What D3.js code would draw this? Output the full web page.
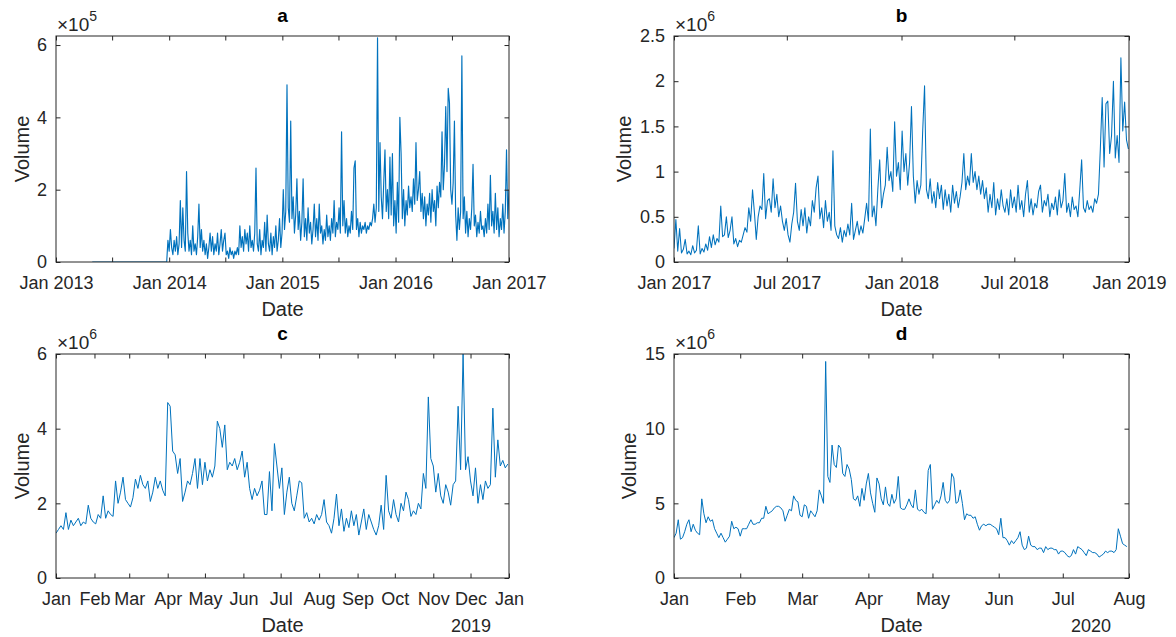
<!DOCTYPE html>
<html>
<head>
<meta charset="utf-8">
<script src="https://cdn.jsdelivr.net/npm/d3@7"></script>
<style>
  html, body { margin: 0; padding: 0; background: #fff; }
  svg { display: block; font-family: "Liberation Sans", Arial, Helvetica, sans-serif; }
</style>
</head>
<body>
<svg id="chart" width="1176" height="637"></svg>
<script>
// Daily trading volume, four periods. Series are sampled at a fixed day step
// from a start date; values are stored in the unit given next to each array.

// ---- panel a: 2013-2016 (step 4 days, unit 1e4) ----
const startA = "2013-04-28";
const stepA = 4;
const unitA = 1e4;
const volA = [
  0,0,0,0,0,0,0,0,0,0, 0,0,0,0,0,0,0,0,0,0, 0,0,0,0,0,0,0,0,0,0,
  0,0,0,0,0,0,0,0,0,0, 0,0,0,0,0,0,0,0,0,0, 0,0,0,0,0,0,0,0,0,0, 0,
  6, 3, 9, 4, 2, 6, 3, 7, 2, 5, 17, 4, 15, 6, 3, 25, 8, 3, 6, 2,
  10, 3, 5, 2, 7, 16, 4, 9, 3, 6, 2, 5, 1, 4, 8, 3, 7, 2, 5, 3,
  8, 2, 5, 9, 3, 6, 8, 2, 3, 1, 4, 2, 3, 1, 3, 2, 4, 2, 10, 4,
  7, 3, 9, 5, 8, 3, 10, 4, 6, 3, 8, 26, 5, 3, 9, 2, 6, 4, 11, 3,
  13, 5, 3, 8, 2, 7, 4, 10, 3, 6, 12, 4, 8, 20, 9, 14, 49, 15, 11, 39,
  12, 18, 8, 13, 23, 9, 14, 6, 11, 23, 7, 12, 6, 15, 8, 11, 5, 9, 16, 7,
  12, 6, 16, 8, 10, 5, 9, 6, 13, 7, 10, 6, 12, 8, 17, 7, 11, 9, 15, 8,
  36, 10, 17, 8, 12, 7, 10, 8, 14, 9, 26, 28, 9, 12, 7, 11, 8, 10, 9, 11,
  8, 10, 9, 11, 10, 12, 16, 11, 15, 62, 14, 33, 18, 12, 22, 31, 14, 20, 12, 29,
  13, 30, 10, 17, 8, 22, 11, 40, 30, 12, 20, 10, 17, 13, 21, 15, 18, 14, 23, 16,
  33, 17, 20, 25, 14, 19, 12, 18, 10, 16, 13, 19, 11, 20, 14, 17, 10, 21, 15, 22,
  18, 36, 20, 27, 43, 25, 48, 44, 20, 16, 22, 39, 13, 6, 15, 9, 14, 57, 12, 18,
  8, 14, 7, 12, 9, 15, 27, 10, 13, 7, 11, 8, 14, 9, 10, 7, 12, 8, 16, 9,
  24, 10, 14, 8, 19, 9, 15, 7, 12, 9, 16, 8, 14, 31, 12, 20
];
const xTicksA = ["2013-01-01","2013-07-01","2014-01-01","2014-07-01","2015-01-01",
                 "2015-07-01","2016-01-01","2016-07-01","2017-01-01"];
const xLabelsA = ["Jan 2013","","Jan 2014","","Jan 2015","","Jan 2016","","Jan 2017"];
const yTicksA = [0, 2e5, 4e5, 6e5];
const yLabelsA = ["0","2","4","6"];

// ---- panel b: 2017-2018 (step 3 days, unit 1e4) ----
const startB = "2017-01-01";
const stepB = 3;
const unitB = 1e4;
const volB = [
  15, 47, 12, 37, 10, 14, 25, 9, 12, 8, 18, 10, 13, 40, 9, 15, 11, 20, 13, 28,
  16, 30, 19, 26, 22, 62, 28, 30, 50, 27, 35, 50, 20, 26, 17, 24, 22, 30, 38, 33,
  60, 45, 80, 55, 25, 50, 62, 58, 98, 48, 68, 70, 55, 92, 60, 75, 50, 62, 45, 35,
  48, 30, 22, 42, 55, 87, 45, 35, 58, 40, 60, 32, 50, 40, 68, 55, 82, 95, 48, 60,
  38, 68, 45, 55, 35, 123, 40, 30, 26, 38, 22, 35, 28, 42, 30, 65, 25, 35, 45, 30,
  40, 32, 48, 65, 45, 147, 50, 62, 40, 80, 113, 60, 75, 85, 127, 90, 100, 78, 155, 95,
  110, 80, 145, 100, 120, 85, 110, 172, 95, 65, 90, 75, 85, 145, 195, 80, 70, 92, 65, 78,
  60, 88, 70, 85, 58, 80, 62, 75, 55, 85, 65, 78, 60, 72, 88, 120, 80, 95, 85, 120,
  88, 100, 80, 95, 75, 90, 70, 82, 55, 75, 60, 88, 52, 70, 58, 80, 62, 55, 70, 52,
  80, 60, 72, 55, 85, 58, 68, 50, 75, 90, 55, 70, 52, 65, 60, 78, 85, 55, 68, 62,
  75, 50, 65, 58, 72, 52, 80, 60, 68, 98, 55, 65, 50, 72, 58, 62, 50, 80, 113, 60,
  55, 68, 58, 62, 55, 70, 65, 75, 125, 182, 105, 175, 178, 120, 140, 200, 115, 140, 110, 226,
  145, 177, 135, 125
];
const xTicksB = ["2017-01-01","2017-07-01","2018-01-01","2018-07-01","2019-01-01"];
const xLabelsB = ["Jan 2017","Jul 2017","Jan 2018","Jul 2018","Jan 2019"];
const yTicksB = [0, 0.5e6, 1e6, 1.5e6, 2e6, 2.5e6];
const yLabelsB = ["0","0.5","1","1.5","2","2.5"];

// ---- panel c: 2018 (step 2 days, unit 1e5) ----
const startC = "2018-01-01";
const stepC = 2;
const unitC = 1e5;
const volC = [
  12, 13, 14, 13, 17.5, 13, 15.5, 14, 15, 16, 14, 15, 14.5, 19.5, 16, 15, 14.5, 17, 16, 22,
  16, 18, 17, 16.5, 26, 20, 23, 27, 21, 20, 19, 21.5, 26.5, 24, 27.5, 25, 24, 26, 20.5, 23,
  27, 24, 26, 23.5, 22, 47, 46, 34, 33, 28, 32, 20.5, 23, 26, 25, 28, 32, 24, 32, 25,
  31, 26, 29, 27, 30, 42, 40, 35, 41, 29, 31, 30, 32, 29, 31, 34, 27, 31, 24, 21,
  24, 22, 23.5, 26, 17, 17, 28.5, 18, 36, 30, 24, 29.5, 17, 23, 27, 20, 18, 22, 26, 25.5,
  16, 17.5, 15, 16, 14.5, 17, 15.5, 17, 21, 15, 14, 12, 16, 22.5, 14, 18.5, 12.5, 16, 13.5, 18,
  14, 17, 11.5, 15, 18.5, 13, 17, 15, 13, 11.5, 14, 19.5, 13, 27.5, 18, 16, 21, 17, 15, 20,
  18, 23, 21, 16.5, 18, 17, 20, 18.5, 28, 24, 48.5, 32, 30, 23, 28, 22, 20, 25, 23, 19.5,
  25, 26, 46, 29, 60, 29, 32.5, 26, 22, 29.5, 20, 25, 21, 26, 24, 25, 45.5, 27, 37, 30,
  31.5, 29.5, 30.5
];
const xTicksC = ["2018-01-01","2018-02-01","2018-03-01","2018-04-01","2018-05-01","2018-06-01",
                 "2018-07-01","2018-08-01","2018-09-01","2018-10-01","2018-11-01","2018-12-01","2019-01-01"];
const xLabelsC = ["Jan","Feb","Mar","Apr","May","Jun","Jul","Aug","Sep","Oct","Nov","Dec","Jan"];
const yTicksC = [0, 2e6, 4e6, 6e6];
const yLabelsC = ["0","2","4","6"];

// ---- panel d: 2020 (daily, unit 1e5) ----
const startD = "2020-01-01";
const stepD = 1;
const unitD = 1e5;
const volD = [
  27, 30, 39, 26, 27, 31, 36, 39, 31, 36, 32, 30, 29, 53, 43, 37, 41, 38, 39, 33,
  30, 27, 30, 27, 24, 26, 28, 38, 33, 34, 33, 28, 33, 33, 33, 36, 39, 36, 36, 37,
  37, 40, 40, 48, 43, 44, 45, 47, 48, 48, 47, 45, 38, 42, 46, 45, 55, 52, 51, 42,
  41, 49, 48, 40, 45, 43, 41, 45, 59, 55, 50, 145, 68, 64, 89, 76, 74, 89, 87, 70,
  68, 76, 73, 66, 53, 52, 55, 48, 60, 52, 63, 70, 57, 50, 44, 67, 63, 53, 49, 61,
  50, 48, 56, 50, 53, 68, 47, 46, 46, 49, 53, 49, 47, 59, 46, 45, 46, 44, 43, 72,
  76, 46, 49, 52, 50, 55, 64, 52, 50, 52, 70, 67, 50, 51, 59, 50, 39, 43, 42, 42,
  40, 41, 36, 32, 35, 36, 35, 36, 36, 35, 34, 33, 29, 40, 27, 27, 25, 22, 25, 23,
  25, 27, 31, 22, 19, 20, 28, 22, 21, 21, 19, 20, 20, 17, 21, 19, 20, 20, 19, 19,
  16, 18, 18, 17, 15, 14, 15, 19, 16, 21, 20, 19, 17, 15, 19, 18, 17, 17, 16, 14,
  15, 16, 18, 17, 18, 18, 17, 19, 33, 28, 23, 22, 21
];
const xTicksD = ["2020-01-01","2020-02-01","2020-03-01","2020-04-01","2020-05-01",
                 "2020-06-01","2020-07-01","2020-08-01"];
const xLabelsD = ["Jan","Feb","Mar","Apr","May","Jun","Jul","Aug"];
const yTicksD = [0, 5e6, 10e6, 15e6];
const yLabelsD = ["0","5","10","15"];

const titles = ["a", "b", "c", "d"];
const exponents = ["5", "6", "6", "6"];
const yearNotes = ["", "", "2019", "2020"];

// ---- drawing ----
const parseDay = d3.timeParse("%Y-%m-%d");
const svg = d3.select("#chart");
svg.append("rect").attr("width", 1176).attr("height", 637).attr("fill", "#fff");

const INK = "#262626";
const LINE = "#0072BD";
const TICK = 4.5;

function series(start, step, unit, vals) {
  const t0 = parseDay(start);
  return vals.map((v, i) => ({ date: d3.timeDay.offset(t0, i * step), value: v * unit }));
}

function drawPanel(p, idx) {
  const g = svg.append("g");
  const x = d3.scaleTime().domain(p.xDomain.map(parseDay)).range([p.left, p.right]);
  const y = d3.scaleLinear().domain(p.yDomain).range([p.bottom, p.top]);
  const xt = p.xTicks.map(parseDay);

  const clipId = "clip" + idx;
  svg.append("clipPath").attr("id", clipId).append("rect")
    .attr("x", p.left).attr("y", p.top - 1)
    .attr("width", p.right - p.left).attr("height", p.bottom - p.top + 1);

  // data line
  g.append("path")
    .datum(p.data)
    .attr("clip-path", `url(#${clipId})`)
    .attr("fill", "none")
    .attr("stroke", LINE)
    .attr("stroke-width", p.lineWidth)
    .attr("stroke-linejoin", "round")
    .attr("d", d3.line().x(d => x(d.date)).y(d => y(d.value)));

  const styleAxis = sel => {
    sel.select(".domain").remove();
    sel.selectAll(".tick line").attr("stroke", INK).attr("stroke-width", 1);
    sel.selectAll(".tick text").attr("fill", INK).attr("font-size", 18)
      .attr("font-family", "'Liberation Sans', Arial, sans-serif");
  };

  // bottom / top
  g.append("g").attr("transform", `translate(0,${p.bottom})`)
    .call(d3.axisBottom(x).tickValues(xt).tickSize(-TICK).tickPadding(14)
      .tickFormat((d, i) => p.xLabels[i]))
    .call(styleAxis);
  g.append("g").attr("transform", `translate(0,${p.top})`)
    .call(d3.axisTop(x).tickValues(xt).tickSize(-TICK).tickFormat(""))
    .call(styleAxis);

  // left / right
  g.append("g").attr("transform", `translate(${p.left},0)`)
    .call(d3.axisLeft(y).tickValues(p.yTicks).tickSize(-TICK).tickPadding(9)
      .tickFormat((d, i) => p.yLabels[i]))
    .call(styleAxis);
  g.append("g").attr("transform", `translate(${p.right},0)`)
    .call(d3.axisRight(y).tickValues(p.yTicks).tickSize(-TICK).tickFormat(""))
    .call(styleAxis);

  // box
  g.append("rect")
    .attr("x", p.left).attr("y", p.top)
    .attr("width", p.right - p.left).attr("height", p.bottom - p.top)
    .attr("fill", "none").attr("stroke", INK).attr("stroke-width", 1);

  const cx = (p.left + p.right) / 2;
  // title
  g.append("text").attr("x", cx).attr("y", p.top - 14)
    .attr("text-anchor", "middle").attr("font-weight", "bold")
    .attr("font-size", 19).attr("fill", "#000").text(titles[idx]);

  // exponent
  const ex = g.append("text").attr("x", p.left + 1).attr("y", p.top - 5)
    .attr("font-size", 19).attr("fill", INK);
  ex.append("tspan").text("\u00d710");
  ex.append("tspan").attr("dy", -10).attr("font-size", 14).text(exponents[idx]);

  // axis titles
  g.append("text").attr("x", cx).attr("y", p.bottom + 54)
    .attr("text-anchor", "middle").attr("font-size", 20).attr("fill", INK).text("Date");
  g.append("text")
    .attr("transform", `translate(${p.yLabelX},${(p.top + p.bottom) / 2}) rotate(-90)`)
    .attr("text-anchor", "middle").attr("font-size", 20).attr("fill", INK).text("Volume");

  if (yearNotes[idx]) {
    g.append("text").attr("x", p.right - 38).attr("y", p.bottom + 54)
      .attr("text-anchor", "middle").attr("font-size", 18).attr("fill", INK)
      .text(yearNotes[idx]);
  }
}

const panels = [
  { left: 56, right: 509, top: 36, bottom: 262, yLabelX: 29, lineWidth: 1.15,
    xDomain: ["2013-01-01", "2017-01-01"], yDomain: [0, 6.25e5],
    xTicks: xTicksA, xLabels: xLabelsA, yTicks: yTicksA, yLabels: yLabelsA,
    data: series(startA, stepA, unitA, volA) },
  { left: 674, right: 1129, top: 36, bottom: 262, yLabelX: 631, lineWidth: 1.05,
    xDomain: ["2017-01-01", "2019-01-01"], yDomain: [0, 2.5e6],
    xTicks: xTicksB, xLabels: xLabelsB, yTicks: yTicksB, yLabels: yLabelsB,
    data: series(startB, stepB, unitB, volB) },
  { left: 56, right: 509, top: 354, bottom: 578, yLabelX: 29, lineWidth: 1,
    xDomain: ["2018-01-01", "2019-01-01"], yDomain: [0, 6e6],
    xTicks: xTicksC, xLabels: xLabelsC, yTicks: yTicksC, yLabels: yLabelsC,
    data: series(startC, stepC, unitC, volC) },
  { left: 674, right: 1129, top: 354, bottom: 578, yLabelX: 636, lineWidth: 1,
    xDomain: ["2020-01-01", "2020-08-01"], yDomain: [0, 15e6],
    xTicks: xTicksD, xLabels: xLabelsD, yTicks: yTicksD, yLabels: yLabelsD,
    data: series(startD, stepD, unitD, volD) }
];

panels.forEach(drawPanel);
</script>
</body>
</html>
